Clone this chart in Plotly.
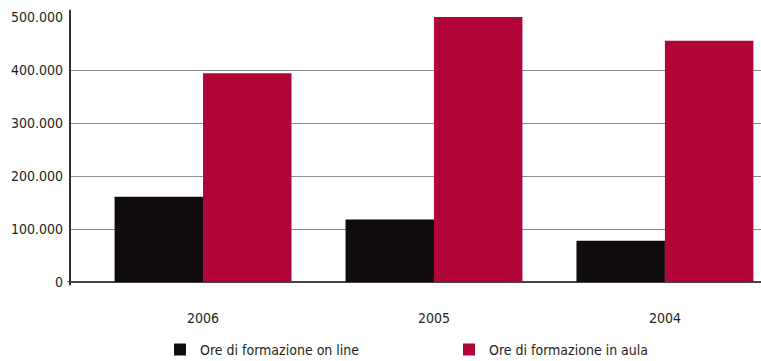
import plotly.graph_objects as go

# Training hours by year
years = ["2006", "2005", "2004"]
online_hours = [161000, 118000, 78000]
classroom_hours = [394000, 500000, 455000]
series_names = ["Ore di formazione on line", "Ore di formazione in aula"]
y_ticks = [0, 100000, 200000, 300000, 400000, 500000]

FONT = "DejaVu Sans Condensed, Liberation Sans Narrow, Arial Narrow, sans-serif"
TEXT = "#231f20"
BLACK = "#110c0d"
RED = "#b20537"

fig = go.Figure()
fig.add_trace(go.Bar(x=years, y=online_hours, name=series_names[0], legend="legend",
                     marker=dict(color=BLACK, line=dict(width=0))))
fig.add_trace(go.Bar(x=years, y=classroom_hours, name=series_names[1], legend="legend2",
                     marker=dict(color=RED, line=dict(width=0))))

legend_common = dict(orientation="h", xref="container", yref="container",
                     xanchor="left", yanchor="middle", y=0.031,
                     itemwidth=30, bgcolor="rgba(0,0,0,0)",
                     font=dict(family=FONT, size=14, color=TEXT))

fig.update_layout(
    width=761, height=361,
    margin=dict(l=70, r=0, t=17, b=79),
    paper_bgcolor="white", plot_bgcolor="white",
    separators=",.",
    barmode="group", bargap=0.234, bargroupgap=0,
    font=dict(family=FONT, size=14, color=TEXT),
    showlegend=True,
    legend=dict(x=160 / 761, **legend_common),
    legend2=dict(x=449 / 761, **legend_common),
    xaxis=dict(type="category", range=[-0.576, 2.416], showgrid=False,
               showline=False, ticks="", ticklabelstandoff=26,
               tickfont=dict(family=FONT, size=14, color=TEXT)),
    yaxis=dict(range=[0, 500000], tickvals=y_ticks, tickformat=",d",
               showgrid=True, gridcolor="#8c8c8c", gridwidth=1,
               zeroline=True, zerolinecolor="#444444", zerolinewidth=1.5,
               showline=False, ticks="", ticklabelstandoff=6,
               tickfont=dict(family=FONT, size=14, color=TEXT)),
)

# Left axis line that runs a little beyond the plot area, plus the tick at zero
fig.add_shape(type="line", xref="paper", yref="paper", x0=0, x1=0, y0=-0.012, y1=1.027,
              line=dict(color="#333333", width=2), layer="above")
fig.add_shape(type="line", xref="paper", yref="y", x0=-0.004, x1=0, y0=0, y1=0,
              line=dict(color="#333333", width=1.5), layer="above")

fig.write_html("out.html")
